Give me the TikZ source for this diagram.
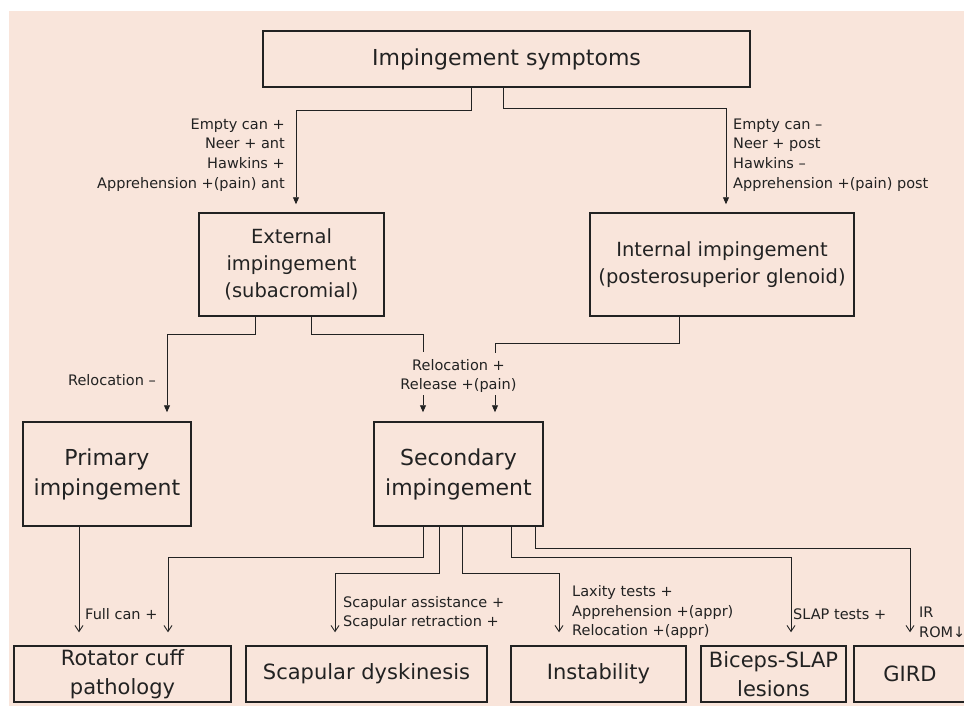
\documentclass[tikz,border=0pt]{standalone}
\usepackage{fontspec}
\setmainfont{DejaVu Sans}
\usetikzlibrary{arrows.meta}
\definecolor{bgcol}{HTML}{F9E5DB}
\definecolor{inkcol}{HTML}{222222}
\tikzset{
  box/.style={draw=inkcol, line width=1.5pt, text=inkcol, align=center, inner sep=0pt},
  bigbox/.style={box, font=\fontsize{22}{30}\selectfont},
  midbox/.style={box, font=\fontsize{19.5}{27}\selectfont},
  endbox/.style={box, font=\fontsize{21}{29}\selectfont, minimum height=56pt},
  lbl/.style={text=inkcol, inner sep=0pt, font=\fontsize{14.5}{19.7}\selectfont},
  wire/.style={draw=inkcol, line width=0.9pt},
  tip/.style={wire, -{Triangle[length=7pt,width=6pt]}},
  vtip/.style={wire, -{Straight Barb[length=6pt,width=8pt]}}
}
\begin{document}
\begin{tikzpicture}[x=1pt,y=-1pt]
\clip (0,0) rectangle (964,706);
\fill[bgcol] (9,11) rectangle (964,706);

\node[bigbox, minimum width=487pt, minimum height=56pt] (sympt) at (506.5,59) {Impingement symptoms};

\node[midbox, minimum width=185pt, minimum height=103pt] (ext) at (291.5,264.5) {External\\impingement\\(subacromial)};
\node[midbox, minimum width=264pt, minimum height=103pt] (intl) at (722,264.5) {Internal impingement\\(posterosuperior glenoid)};

\node[bigbox, minimum width=168pt, minimum height=104pt] (prim) at (107,474) {Primary\\impingement};
\node[bigbox, minimum width=169pt, minimum height=104pt] (sec) at (458.5,474) {Secondary\\impingement};

\node[endbox, minimum width=217pt] (rot) at (122.5,674) {Rotator cuff\\pathology};
\node[endbox, minimum width=241pt] (scap) at (366.5,674) {Scapular dyskinesis};
\node[endbox, minimum width=175pt] (inst) at (598.5,674) {Instability};
\node[endbox, minimum width=145pt] (bic) at (773.5,674) {Biceps-SLAP\\lesions};
\node[endbox, minimum width=112pt] (gird) at (910,674) {GIRD};

\node[lbl, anchor=east, align=right] (extlbl) at (285,155) {Empty can +\\Neer + ant\\Hawkins +\\Apprehension +(pain) ant};
\node[lbl, anchor=west, align=left] (intlbl) at (733,155) {Empty can --\\Neer + post\\Hawkins --\\Apprehension +(pain) post};
\node[lbl, anchor=east] (primlbl) at (156,380) {Relocation --};
\node[lbl, align=center] (rel) at (458.5,376) {Relocation +\\Release +(pain)};
\node[lbl, anchor=west] (rotlbl) at (85,614) {Full can +};
\node[lbl, anchor=west, align=left] (scaplbl) at (343,613) {Scapular assistance +\\Scapular retraction +};
\node[lbl, anchor=west, align=left] (instlbl) at (572,612) {Laxity tests +\\Apprehension +(appr)\\Relocation +(appr)};
\node[lbl, anchor=west] (biclbl) at (793,614) {SLAP tests +};
\node[lbl, anchor=west, align=left] (girdlbl) at (919,622) {IR\\ROM↓};

\draw[tip] ([xshift=-35.5pt]sympt.south) -- ++(0,23) -| ([xshift=4.5pt,yshift=8pt]ext.north);
\draw[tip] ([xshift=-3.5pt]sympt.south) -- ++(0,21) -| ([xshift=4pt,yshift=8pt]intl.north);

\draw[tip] ([xshift=-36.5pt]ext.south) -- ++(0,18) -| ([xshift=60pt,yshift=9pt]prim.north);
\draw[wire] ([xshift=19.5pt]ext.south) -- ++(0,18) -| ([xshift=-35.5pt,yshift=7pt]rel.north);
\draw[wire] ([xshift=-43pt]intl.south) -- ++(0,27) -| ([xshift=36.5pt,yshift=6pt]rel.north);
\draw[tip] ([xshift=-35.5pt,yshift=-2pt]rel.south) -- ([xshift=-35.5pt,yshift=9pt]sec.north);
\draw[tip] ([xshift=36.5pt,yshift=-2pt]rel.south) -- ([xshift=36.5pt,yshift=9pt]sec.north);

\draw[vtip] ([xshift=-28pt]prim.south) -- ([xshift=-43.5pt,yshift=13pt]rot.north);
\draw[vtip] ([xshift=-35.5pt]sec.south) -- ++(0,31) -| ([xshift=45.5pt,yshift=13pt]rot.north);
\draw[vtip] ([xshift=-19.5pt]sec.south) -- ++(0,47) -| ([xshift=-31.5pt,yshift=13pt]scap.north);
\draw[vtip] ([xshift=3.5pt]sec.south) -- ++(0,47) -| ([xshift=-39.5pt,yshift=13pt]inst.north);
\draw[vtip] ([xshift=52.5pt]sec.south) -- ++(0,31) -| ([xshift=17.5pt,yshift=13pt]bic.north);
\draw[vtip] ([xshift=76.5pt]sec.south) -- ++(0,22) -| ([yshift=13pt]gird.north);
\end{tikzpicture}
\end{document}
